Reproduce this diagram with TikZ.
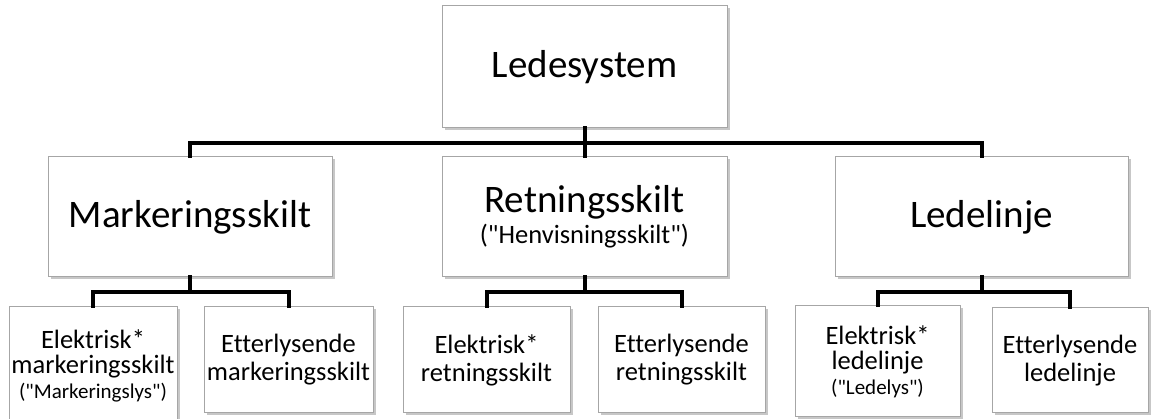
\documentclass[tikz,border=0pt]{standalone}
\usepackage{fontspec}
\setmainfont{Carlito}[Ligatures={TeXOff,NoCommon}]
\usetikzlibrary{shadows}
\definecolor{boxline}{HTML}{A6A6A6}
\tikzset{
  box/.style={draw=boxline, line width=1pt, fill=white, align=center, inner sep=0pt,
    drop shadow={shadow xshift=2.5pt, shadow yshift=-2.5pt, fill=black, opacity=0.22}},
  conn/.style={draw=black, line width=4pt, line join=miter, line cap=rect},
  bigtxt/.style={font=\fontsize{39}{46}\selectfont},
  midtxt/.style={font=\fontsize{39}{46}\selectfont},
  subtxt/.style={font=\fontsize{26.5}{28}\selectfont},
  subtxtb/.style={font=\fontsize{26.5}{25}\selectfont},
}
\newcommand{\smallpar}[1]{{\fontsize{21}{23}\selectfont #1}}
\begin{document}
\begin{tikzpicture}[x=1pt,y=-1pt]
\useasboundingbox (0,0) rectangle (1162,419);
\fill[white] (0,0) rectangle (1162,419);
\node[box, bigtxt, minimum width=285pt, minimum height=122pt] (top) at (584.5,67) {Ledesystem};
\node[box, midtxt, minimum width=284pt, minimum height=120pt] (mark) at (190,217) {Markeringsskilt};
\node[box, font=\fontsize{26.5}{31}\selectfont, minimum width=285pt, minimum height=120pt] (retn) at (584.5,217)
  {{\fontsize{39}{31}\selectfont Retningsskilt}\\("Henvisningsskilt")};
\node[box, midtxt, minimum width=293pt, minimum height=120pt] (lede) at (981.5,217) {Ledelinje};
\node[box, subtxtb, minimum width=168pt, minimum height=118pt] (e1) at (93,366)
  {Elektrisk*\\markeringsskilt\\\smallpar{("Markeringslys")}};
\node[box, subtxt, minimum width=169pt, minimum height=106pt] (e2) at (288.5,360) {Etterlysende\\markeringsskilt};
\node[box, subtxt, minimum width=167pt, minimum height=106pt] (r1) at (486.5,360) {Elektrisk*\\retningsskilt};
\node[box, subtxt, minimum width=167pt, minimum height=106pt] (r2) at (681.5,360) {Etterlysende\\retningsskilt};
\node[box, subtxtb, minimum width=165pt, minimum height=111pt] (l1) at (877.5,361.5)
  {Elektrisk*\\ledelinje\\\smallpar{("Ledelys")}};
\node[box, subtxt, minimum width=156pt, minimum height=105pt] (l2) at (1070,360.5) {Etterlysende\\ledelinje};
% connectors
\coordinate (bus) at (584.5,143);
\draw[conn] (top.south) -- (bus);
\draw[conn] (mark.north) |- (bus) -| (lede.north);
\draw[conn] (retn.north) -- (retn.north |- bus);
\draw[conn] (mark.south) -- ++(0,15) coordinate (mb);
\draw[conn] (e1.north) |- (mb) -| (e2.north);
\draw[conn] (retn.south) -- ++(0,15) coordinate (rb);
\draw[conn] (r1.north) |- (rb) -| (r2.north);
\draw[conn] (lede.south) -- ++(0,15) coordinate (lb);
\draw[conn] (l1.north) |- (lb) -| (l2.north);
\end{tikzpicture}
\end{document}
